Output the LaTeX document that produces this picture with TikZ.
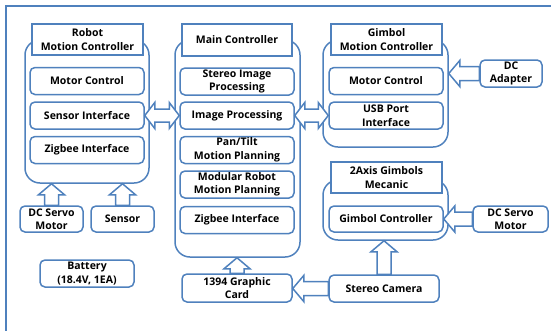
\documentclass[tikz,border=0pt]{standalone}
\usepackage{fontspec}
\setmainfont{Open Sans}
\usepackage{tikz}
\usetikzlibrary{positioning,calc}
\definecolor{boxblue}{RGB}{79,129,189}
\tikzset{
  ctrlbox/.style={draw=boxblue, line width=1.5pt, rounded corners=15pt, fill=white, inner sep=0pt},
  titlebox/.style={draw=boxblue, line width=1.5pt, fill=white, minimum width=111pt, minimum height=31pt, align=center, inner sep=0pt},
  modbox/.style={draw=boxblue, line width=1.5pt, rounded corners=5pt, fill=white, minimum width=114pt, minimum height=27pt, align=center, inner sep=0pt},
  devbox/.style={draw=boxblue, line width=1.5pt, rounded corners=5pt, fill=white, minimum height=27pt, align=center, inner sep=0pt},
  blockup/.style={draw=boxblue, line width=1.5pt, fill=white, to path={let \p1=(\tikztostart), \p2=(\tikztotarget) in
    (\x1-7pt,\y1) -- (\x1-7pt,\y2-11pt) -- (\x1-13pt,\y2-11pt) -- (\x1,\y2) -- (\x1+13pt,\y2-11pt) -- (\x1+7pt,\y2-11pt) -- (\x1+7pt,\y1) -- cycle}},
  blockleft/.style={draw=boxblue, line width=1.5pt, fill=white, to path={let \p1=(\tikztostart), \p2=(\tikztotarget) in
    (\x1,\y1+7pt) -- (\x2+11pt,\y1+7pt) -- (\x2+11pt,\y1+13pt) -- (\x2,\y1) -- (\x2+11pt,\y1-13pt) -- (\x2+11pt,\y1-7pt) -- (\x1,\y1-7pt) -- cycle}},
  blockboth/.style={draw=boxblue, line width=1.5pt, fill=white, to path={let \p1=(\tikztostart), \p2=(\tikztotarget) in
    (\x1,\y1) -- (\x1+10pt,\y1+13pt) -- (\x1+10pt,\y1+6.5pt) -- (\x2-10pt,\y1+6.5pt) -- (\x2-10pt,\y1+13pt) -- (\x2,\y1)
    -- (\x2-10pt,\y1-13pt) -- (\x2-10pt,\y1-6.5pt) -- (\x1+10pt,\y1-6.5pt) -- (\x1+10pt,\y1-13pt) -- cycle}}
}

\begin{document}
\begin{tikzpicture}[x=1pt, y=-1pt, every node/.style={font=\fontsize{10.5}{13.5}\selectfont\bfseries}]
  \clip (0,0) rectangle (551,330);
  \draw[boxblue, line width=1.5pt] (6,6) rectangle (580,350);

  % robot motion controller
  \node[ctrlbox, minimum width=124pt, minimum height=143pt] (robot) at (87,111.5) {};
  \node[titlebox] (robottitle) at (87.5,39.5) {Robot\\Motion Controller};
  \node[modbox] (robotmotor) at (87,81) {Motor Control};
  \node[modbox] (robotsensor) at (87,115.5) {Sensor Interface};
  \node[modbox] (robotzigbee) at (87,150) {Zigbee Interface};
  \node[devbox, minimum width=63pt, minimum height=26pt] (servoL) at (51.5,219) {DC Servo\\Motor};
  \node[devbox, minimum width=63pt, minimum height=26pt] (sensor) at (122.5,219) {Sensor};
  \node[devbox, minimum width=94pt] (battery) at (87,273.5) {Battery\\(18.4V, 1EA)};

  % main controller
  \node[ctrlbox, minimum width=125pt, minimum height=217pt] (main) at (237.5,148.5) {};
  \node[titlebox, minimum width=110pt, minimum height=32pt] (maintitle) at (237,40) {Main Controller};
  \node[modbox] (stereoproc) at (237,81.5) {Stereo Image\\Processing};
  \node[modbox] (imageproc) at (237,115.5) {Image Processing};
  \node[modbox] (pantilt) at (237,150) {Pan/Tilt\\Motion Planning};
  \node[modbox] (modular) at (237,184.5) {Modular Robot\\Motion Planning};
  \node[modbox] (mainzigbee) at (237,220) {Zigbee Interface};
  \node[devbox, minimum width=110pt, minimum height=28pt] (card) at (237,288) {1394 Graphic\\Card};

  % gimbol motion controller
  \node[ctrlbox, minimum width=125pt, minimum height=107pt] (gimbol) at (385.5,93.5) {};
  \node[titlebox] (gimboltitle) at (386.5,39.5) {Gimbol\\Motion Controller};
  \node[modbox] (gimbolmotor) at (386,81) {Motor Control};
  \node[modbox] (usbport) at (386,115.5) {USB Port\\Interface};
  \node[devbox, minimum width=62pt] (adapter) at (511,73.5) {DC\\Adapter};

  % 2 axis gimbols
  \node[ctrlbox, minimum width=125pt, minimum height=60pt] (axis) at (385.5,210) {};
  \node[titlebox] (axistitle) at (386.5,177.5) {2Axis Gimbols\\Mecanic};
  \node[modbox, minimum height=26pt] (gimbolctrl) at (386,219) {Gimbol Controller};
  \node[devbox, minimum width=75pt, minimum height=26pt] (servoR) at (510.5,219) {DC Servo\\Motor};
  \node[devbox, minimum width=110pt] (camera) at (384,288.5) {Stereo Camera};

  % block arrows
  \draw[blockup] (servoL.north) to (servoL.north |- robot.south);
  \draw[blockup] (sensor.north) to (sensor.north |- robot.south);
  \draw[blockup] (card.north) to (card.north |- main.south);
  \draw[blockup] (camera.north) to (camera.north |- axis.south);
  \draw[blockboth] (robotsensor.east) to (imageproc.west);
  \draw[blockboth] (imageproc.east) to (usbport.west);
  \draw[blockleft] (adapter.west) to (adapter.west -| gimbol.east);
  \draw[blockleft] (servoR.west) to (gimbolctrl.east);
  \draw[blockleft] (camera.west) to (card.east);
\end{tikzpicture}
\end{document}
